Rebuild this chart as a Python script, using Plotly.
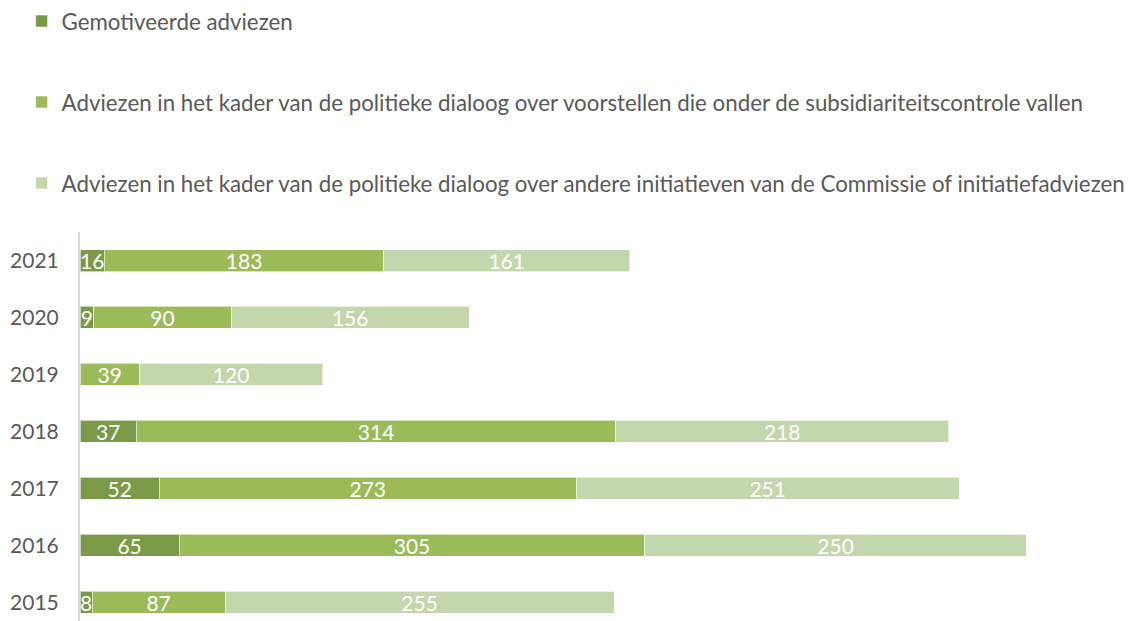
import plotly.graph_objects as go

years = ["2015", "2016", "2017", "2018", "2019", "2020", "2021"]
gemotiveerd = [8, 65, 52, 37, 0, 9, 16]
subsidiariteit = [87, 305, 273, 314, 39, 90, 183]
andere = [255, 250, 251, 218, 120, 156, 161]

names = [
    "Gemotiveerde adviezen",
    "Adviezen in het kader van de politieke dialoog over voorstellen die onder de subsidiariteitscontrole vallen",
    "Adviezen in het kader van de politieke dialoog over andere initiatieven van de Commissie of initiatiefadviezen",
]
colors = ["#7A9A48", "#9BBB59", "#C4D6AB"]
series = [gemotiveerd, subsidiariteit, andere]

FONT = "Lato"
fig = go.Figure()
for i, (name, vals, col) in enumerate(zip(names, series, colors)):
    fig.add_trace(go.Bar(
        y=years, x=vals, name=name, orientation="h",
        marker=dict(color=col, line=dict(color="rgba(255,255,255,0.6)", width=1)),
        text=[str(v) for v in vals], textposition="inside", textangle=0,
        insidetextanchor="middle", constraintext="none",
        textfont=dict(color="white", size=21, family=FONT),
        legendgroup=f"g{i}",
    ))

fig.update_layout(
    width=1137, height=621,
    barmode="stack", bargap=0.614,
    plot_bgcolor="white", paper_bgcolor="white",
    margin=dict(l=80, r=19, t=232, b=0, autoexpand=False),
    font=dict(family=FONT, size=21, color="#595959"),
    legend=dict(
        xref="container", yref="container", x=0.019, y=1.0,
        xanchor="left", yanchor="top",
        traceorder="grouped", tracegroupgap=49,
        font=dict(size=22.3, color="#595959", family=FONT),
        bgcolor="rgba(0,0,0,0)",
    ),
    showlegend=True,
)
fig.update_xaxes(range=[0, 680], showgrid=False, zeroline=False, showticklabels=False,
                 showline=False, automargin=False)
fig.update_yaxes(range=[-0.325, 6.5], showgrid=False, zeroline=False, showline=True,
                 linecolor="#D9D9D9", linewidth=2, ticks="", ticklabelstandoff=15,
                 automargin=False,
                 tickfont=dict(size=21, color="#595959", family=FONT))

fig.write_html("out.html", config={"displayModeBar": False},
               post_script="document.body.style.margin='0';")
